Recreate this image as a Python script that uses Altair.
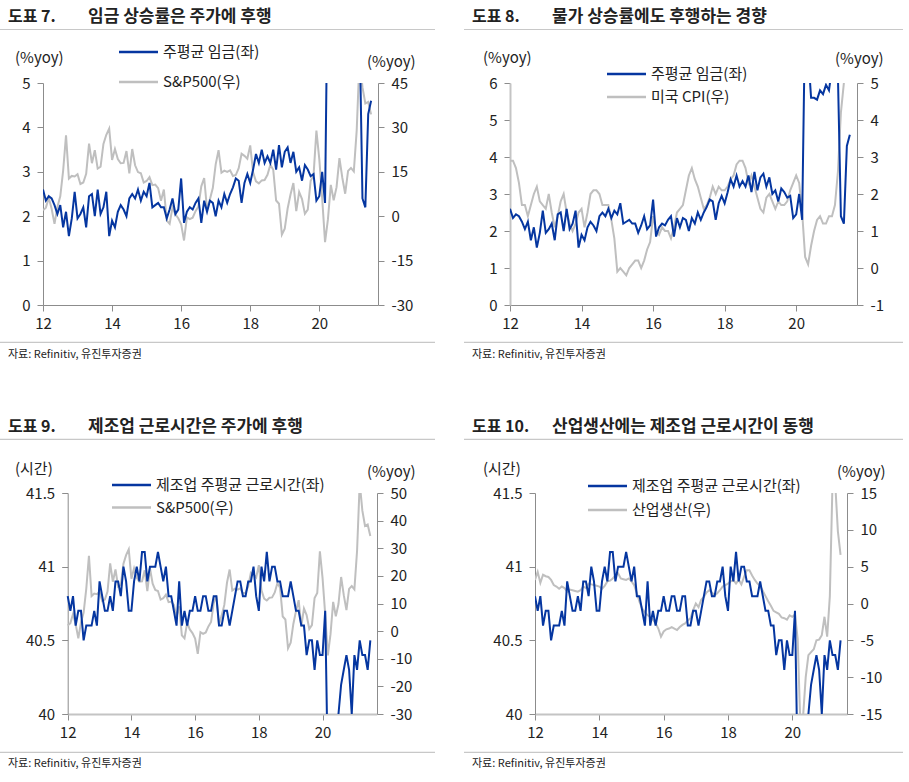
import altair as alt
import pandas as pd

FONT = "Noto Sans CJK KR"
BLUE = "#0536a0"
GREY = "#bfbfbf"
AXC = "#8c8c8c"
AXL = "#c4c4c4"
TXT = "#222222"
SEP = "#c8c8c8"

# Monthly data, Jan 2012 - Jul 2021 (%yoy unless noted)
wage = [2.60, 2.35, 2.45, 2.40, 2.25, 2.05, 2.25, 1.75, 2.10, 1.55, 1.95, 2.55,
        1.95, 2.05, 2.20, 1.75, 2.45, 2.50, 2.00, 2.60, 2.05, 2.20, 2.55, 1.55,
        1.90, 1.75, 2.10, 2.25, 2.15, 2.00, 2.40, 2.50, 2.40, 2.60, 2.35, 2.55,
        2.45, 2.75, 2.20, 2.25, 2.30, 2.20, 2.20, 1.95, 2.15, 2.40, 2.05, 2.15,
        2.85, 1.85, 2.10, 2.20, 2.15, 2.30, 2.40, 1.85, 2.35, 2.10, 2.35, 2.30,
        2.00, 2.35, 2.20, 2.50, 2.30, 2.50, 2.65, 2.85, 2.80, 2.30, 2.75, 2.95,
        2.75, 3.05, 3.40, 3.20, 3.50, 3.20, 3.35, 3.20, 3.50, 3.05, 3.60, 3.10,
        3.45, 3.55, 3.20, 3.45, 3.00, 3.10, 2.80, 3.15, 3.05, 2.90, 2.95, 2.35,
        2.45, 3.00, 2.30, 7.90, 6.80, 5.60, 5.60, 5.55, 5.80, 5.70, 5.95, 5.80,
        6.40, 6.60, 6.20, 2.40, 2.20, 4.30, 4.60]

sp500 = [2.0, 2.9, 6.2, 2.5, -2.6, 3.1, 6.7, 15.4, 27.3, 12.7, 13.6, 13.4,
         14.2, 10.9, 11.4, 14.3, 24.5, 17.9, 22.3, 16.1, 16.7, 24.4, 27.5, 29.6,
         19.0, 22.7, 19.3, 17.9, 18.0, 22.0, 14.5, 22.7, 17.2, 14.9, 14.5, 11.4,
         11.9, 13.2, 10.5, 10.7, 9.5, 5.2, 9.0, -1.5, -2.6, 3.0, 0.6, -0.7,
         -2.7, -8.2, -0.4, -1.0, -0.5, 1.7, 3.3, 10.1, 12.9, 2.3, 5.7, 9.5,
         17.5, 22.3, 14.7, 15.4, 15.0, 15.5, 13.6, 13.9, 16.2, 21.1, 20.4, 19.4,
         23.9, 14.8, 11.8, 11.1, 12.1, 12.2, 14.0, 17.4, 15.7, 5.3, 4.2, -6.2,
         -4.2, 2.6, 7.3, 11.2, 1.7, 8.2, 5.8, 0.8, 2.2, 12.0, 13.8, 28.9,
         19.3, 6.1, -8.8, -1.1, 10.6, 5.4, 9.8, 19.6, 13.0, 7.6, 15.3, 16.3,
         15.1, 29.0, 53.7, 43.6, 38.1, 38.6, 34.4]

cpi = [2.9, 2.9, 2.7, 2.3, 1.7, 1.7, 1.4, 1.7, 2.0, 2.2, 1.8, 1.7,
       1.6, 2.0, 1.5, 1.1, 1.4, 1.8, 2.0, 1.5, 1.2, 1.0, 1.2, 1.5,
       1.6, 1.1, 1.5, 2.0, 2.1, 2.1, 2.0, 1.7, 1.7, 1.7, 1.3, 0.8,
       -0.1, 0.0, -0.1, -0.2, 0.0, 0.1, 0.2, 0.2, 0.0, 0.2, 0.5, 0.7,
       1.4, 1.0, 0.9, 1.1, 1.0, 1.0, 0.8, 1.1, 1.5, 1.6, 1.7, 2.1,
       2.5, 2.7, 2.4, 2.2, 1.9, 1.6, 1.7, 1.9, 2.2, 2.0, 2.2, 2.1,
       2.1, 2.2, 2.4, 2.5, 2.8, 2.9, 2.9, 2.7, 2.3, 2.5, 2.2, 1.9,
       1.6, 1.5, 1.9, 2.0, 1.8, 1.6, 1.8, 1.7, 1.7, 1.8, 2.1, 2.3,
       2.5, 2.3, 1.5, 0.3, 0.1, 0.6, 1.0, 1.3, 1.4, 1.2, 1.2, 1.4,
       1.4, 1.7, 2.6, 4.2, 5.0, 5.4, 5.4]

# manufacturing average weekly hours (hours)
hours = [40.8, 40.7, 40.8, 40.6, 40.7, 40.7, 40.5, 40.6, 40.6, 40.6, 40.7, 40.6,
         40.9, 40.8, 40.7, 40.7, 40.8, 40.7, 40.9, 40.9, 40.8, 41.0, 40.9, 40.7,
         40.7, 40.9, 41.0, 40.9, 41.1, 41.1, 40.9, 41.0, 41.0, 41.0, 41.1, 41.0,
         40.9, 41.0, 40.8, 40.8, 40.7, 40.6, 40.9, 40.6, 40.7, 40.6, 40.7, 40.7,
         40.8, 40.7, 40.7, 40.8, 40.8, 40.7, 40.7, 40.8, 40.8, 40.6, 40.6, 40.7,
         40.7, 40.6, 40.7, 40.8, 40.9, 40.9, 40.8, 40.8, 40.9, 40.9, 41.0, 40.8,
         40.7, 41.0, 40.9, 41.1, 40.9, 41.0, 41.0, 40.9, 40.9, 40.8, 40.8, 40.8,
         40.9, 40.8, 40.7, 40.7, 40.6, 40.6, 40.4, 40.5, 40.5, 40.3, 40.5, 40.4,
         40.4, 40.7, 39.6, 38.6, 39.3, 39.8, 40.0, 40.2, 40.3, 40.4, 40.3, 40.0,
         40.4, 40.3, 40.5, 40.4, 40.4, 40.3, 40.5]

ip = [3.2, 4.3, 2.8, 3.9, 3.7, 3.6, 3.2, 2.5, 2.3, 2.0, 2.3, 2.1,
      1.6, 1.9, 1.8, 1.7, 1.6, 1.8, 2.3, 2.1, 2.7, 2.6, 2.5, 2.4,
      2.3, 2.0, 2.4, 3.0, 3.1, 3.4, 3.8, 4.1, 3.4, 3.3, 3.2, 3.4,
      3.0, 2.5, 1.4, 0.2, -0.7, -1.2, -1.6, -1.8, -2.2, -2.7, -3.4, -4.5,
      -3.8, -3.5, -3.4, -3.2, -3.4, -3.6, -3.2, -2.9, -2.7, -2.3, -2.0, -0.9,
      0.0, -0.5, 0.5, 0.9, 1.5, 1.8, 1.5, 1.1, 1.4, 1.8, 2.3, 2.5,
      2.7, 3.0, 3.2, 2.7, 3.2, 2.6, 3.6, 4.5, 4.5, 3.8, 3.2, 2.7,
      2.4, 1.7, 1.0, 0.3, -0.3, -1.0, -1.2, -1.4, -1.9, -2.0, -2.2, -1.6,
      -1.8, -1.5, -4.8, -16.5, -15.4, -10.0, -7.0, -6.6, -6.2, -5.0, -4.9, -4.3,
      -1.8, -4.5, 1.0, 16.5, 16.3, 9.8, 6.6]

YEARS = [12, 14, 16, 18, 20]
SOURCE = "자료: Refinitiv, 유진투자증권"

df = pd.DataFrame({
    "t": [12 + i / 12 for i in range(len(wage))],
    "wage": wage, "sp500": sp500, "cpi": cpi, "hours": hours, "ip": ip,
})
one = pd.DataFrame({"v": [0]})

AX = dict(title=None, grid=False, tickColor=AXC, tickSize=6,
          labelFont=FONT, labelFontSize=15, labelColor=TXT, labelFlush=False,
          labelExpr="'' + datum.value")
THIN = dict(domainColor=AXC, domainWidth=1)
THICK = dict(domainColor=AXL, domainWidth=2)


def txt(s, x, y, o, size=15, bold=False, baseline="middle"):
    return alt.Chart(one).mark_text(
        text=s, align="left", baseline=baseline, font=FONT, fontSize=size,
        fontWeight="bold" if bold else "normal", color=TXT,
    ).encode(x=alt.value(x - o[0]), y=alt.value(y - o[1]))


def rule(x1, x2, y, o, color, width):
    return alt.Chart(one).mark_rule(color=color, strokeWidth=width).encode(
        x=alt.value(x1 - o[0]), x2=alt.value(x2 - o[0]), y=alt.value(y - o[1]))


def panel(w, h, xr, left, right, left_off, deco, xstyle, lstyle, rstyle):
    xenc = alt.X("t:Q", scale=alt.Scale(domain=[12, 21.7], range=xr, nice=False, zero=False),
                 axis=alt.Axis(values=YEARS, labelPadding=5, **xstyle, **AX))
    lf, ldom, lvals = left
    rf, rdom, rvals = right
    grey = alt.Chart(df).mark_line(color=GREY, strokeWidth=2, clip=True).encode(
        x=xenc,
        y=alt.Y(f"{rf}:Q", scale=alt.Scale(domain=rdom, nice=False, zero=False),
                axis=alt.Axis(orient="right", values=rvals, labelPadding=7, **rstyle, **AX)))
    blue = alt.Chart(df).mark_line(color=BLUE, strokeWidth=2, clip=True).encode(
        x=xenc,
        y=alt.Y(f"{lf}:Q", scale=alt.Scale(domain=ldom, nice=False, zero=False),
                axis=alt.Axis(orient="left", values=lvals, labelPadding=7, offset=left_off,
                              **lstyle, **AX)))
    return alt.layer(grey, blue, *deco).resolve_scale(y="independent").properties(width=w, height=h)


def frame(o, x0, x1, num, title, ytop, ybot, src_y):
    return [
        txt(num, x0 + 8, ytop - 7.5, o, size=16, bold=True, baseline="alphabetic"),
        txt(title, x0 + 88, ytop - 7.5, o, size=17, bold=True, baseline="alphabetic"),
        rule(x0, x1, ytop, o, SEP, 1.2),
        rule(x0, x1, ybot, o, SEP, 1.2),
        txt(SOURCE, x0 + 8, src_y, o, size=11, baseline="alphabetic"),
    ]


def legend(o, x, y1, y2, lab1, lab2):
    return [
        rule(x, x + 39, y1, o, BLUE, 2.5),
        txt(lab1, x + 44, y1, o),
        rule(x, x + 39, y2, o, GREY, 2.5),
        txt(lab2, x + 44, y2, o),
    ]


# panel 7: wages vs S&P500
o1 = (43, 83)
p1 = panel(335, 222, [0, 335], ("wage", [0, 5], [0, 1, 2, 3, 4, 5]),
           ("sp500", [-30, 45], [-30, -15, 0, 15, 30, 45]), 0,
           frame(o1, 0, 435, "도표 7.", "임금 상승률은 주가에 후행", 29.5, 342.3, 358)
           + [txt("(%yoy)", 15, 57.5, o1), txt("(%yoy)", 367, 61.5, o1)]
           + legend(o1, 119, 52, 82, "주평균 임금(좌)", "S&P500(우)"),
           THIN, THIN, THIN)

# panel 8: wages vs CPI
o2 = (510, 83)
p2 = panel(347, 222, [0, 347], ("wage", [0, 6], [0, 1, 2, 3, 4, 5, 6]),
           ("cpi", [-1, 5], [-1, 0, 1, 2, 3, 4, 5]), 0,
           frame(o2, 464, 903, "도표 8.", "물가 상승률에도 후행하는 경향", 29.5, 342.3, 358)
           + [txt("(%yoy)", 483, 57.5, o2), txt("(%yoy)", 835, 59, o2)]
           + legend(o2, 607, 74, 97, "주평균 임금(좌)", "미국 CPI(우)"),
           THIN, THICK, THIN)

# panel 9: manufacturing hours vs S&P500
o3 = (43, 493)
p3 = panel(334, 221, [24.7, 333.7], ("hours", [40, 41.5], [40, 40.5, 41, 41.5]),
           ("sp500", [-30, 50], [-30, -20, -10, 0, 10, 20, 30, 40, 50]), -24.7,
           frame(o3, 0, 435, "도표 9.", "제조업 근로시간은 주가에 후행", 439.3, 752.3, 767)
           + [txt("(시간)", 15, 468.5, o3), txt("(%yoy)", 367, 471.5, o3)]
           + legend(o3, 112, 485, 507.5, "제조업 주평균 근로시간(좌)", "S&P500(우)"),
           THICK, THIN, THIN)

# panel 10: manufacturing hours vs industrial production
o4 = (535, 493)
p4 = panel(312, 221, [0, 312], ("hours", [40, 41.5], [40, 40.5, 41, 41.5]),
           ("ip", [-15, 15], [-15, -10, -5, 0, 5, 10, 15]), 0,
           frame(o4, 464, 903, "도표 10.", "산업생산에는 제조업 근로시간이 동행", 439.3, 752.3, 767)
           + [txt("(시간)", 483, 468.5, o4), txt("(%yoy)", 837, 472, o4)]
           + legend(o4, 588, 486, 510, "제조업 주평균 근로시간(좌)", "산업생산(우)"),
           THICK, THIN, THIN)

# flush bounds: nested rows report zero height, so the row gap includes the row height
row1 = alt.hconcat(p1, p2, spacing=132, bounds="flush")
row2 = alt.hconcat(p3, p4, spacing=158, bounds="flush")
chart = alt.vconcat(row1, row2, spacing=410, bounds="flush").properties(
    autosize=alt.AutoSizeParams(type="none"),
    padding={"left": 43, "top": 83, "right": 866, "bottom": 699},
    background="white",
).configure_view(stroke=None)

chart.save("out.html", embed_options={"renderer": "svg", "actions": False})
